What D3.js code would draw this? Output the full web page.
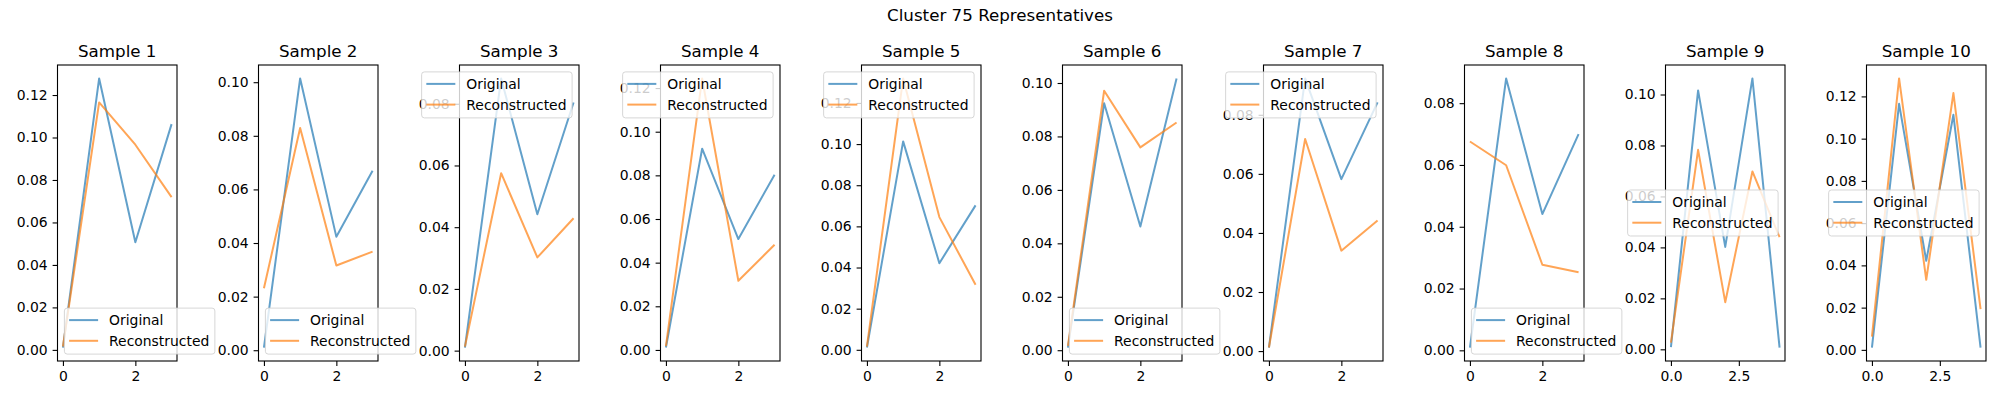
<!DOCTYPE html>
<html>
<head>
<meta charset="utf-8">
<script src="https://cdn.jsdelivr.net/npm/d3@7"></script>
<style>
body { margin: 0; background: #fff; }
text { font-family: "DejaVu Sans", sans-serif; fill: #000; }
</style>
</head>
<body>
<svg id="chart" width="2000" height="400"></svg>
<script>
// values
const figTitle = "Cluster 75 Representatives";
const sampleTitles = ["Sample 1","Sample 2","Sample 3","Sample 4","Sample 5",
                      "Sample 6","Sample 7","Sample 8","Sample 9","Sample 10"];
const seriesNames = ["Original", "Reconstructed"];

const original = [
  [0.0011, 0.1278, 0.0507, 0.1063],
  [0.0010, 0.1014, 0.0423, 0.0670],
  [0.0010, 0.0882, 0.0442, 0.0804],
  [0.0011, 0.0922, 0.0508, 0.0803],
  [0.0011, 0.1013, 0.0421, 0.0702],
  [0.0010, 0.0924, 0.0463, 0.1017],
  [0.0012, 0.0923, 0.0582, 0.0842],
  [0.0009, 0.0880, 0.0441, 0.0700],
  [0.0009, 0.1016, 0.0402, 0.1063, 0.0007],
  [0.0011, 0.1165, 0.0422, 0.1113, 0.0011]
];
const reconstructed = [
  [0.0016, 0.1165, 0.0966, 0.0719],
  [0.0231, 0.0829, 0.0316, 0.0368],
  [0.0013, 0.0575, 0.0302, 0.0429],
  [0.0018, 0.1244, 0.0317, 0.0482],
  [0.0016, 0.1319, 0.0645, 0.0316],
  [0.0016, 0.0971, 0.0759, 0.0852],
  [0.0012, 0.0718, 0.0340, 0.0442],
  [0.0676, 0.0599, 0.0277, 0.0253],
  [0.0026, 0.0783, 0.0185, 0.0698, 0.0440],
  [0.0063, 0.1285, 0.0332, 0.1216, 0.0193]
];
const legendLoc = ["lower left","lower left","upper right","upper right","upper right",
                   "lower left","upper right","lower left","center right","center right"];
const xTickVals = [[0,2],[0,2],[0,2],[0,2],[0,2],[0,2],[0,2],[0,2],[0,2.5],[0,2.5]];
const xTickLabels = [["0","2"],["0","2"],["0","2"],["0","2"],["0","2"],
                     ["0","2"],["0","2"],["0","2"],["0.0","2.5"],["0.0","2.5"]];
const yTickStep = 0.02;

const colors = ["#1f77b4", "#ff7f0e"];

const svg = d3.select("#chart");

// figure title
svg.append("text")
  .attr("x", 1000).attr("y", 20.5)
  .attr("text-anchor", "middle")
  .style("font-size", "16.7px")
  .text(figTitle);

const axTop = 65, axBottom = 361, axW = 119.5;
const fmtY = d3.format(".2f");

sampleTitles.forEach((title, i) => {
  const left = 57.5 + 201 * i;
  const right = left + axW;
  const orig = original[i], rec = reconstructed[i];
  const n = orig.length;

  const all = orig.concat(rec);
  const lo = d3.min(all), hi = d3.max(all);
  const pad = (hi - lo) * 0.05;
  const y = d3.scaleLinear().domain([lo - pad, hi + pad]).range([axBottom, axTop]);
  const x = d3.scaleLinear().domain([-(n - 1) * 0.05, (n - 1) * 1.05]).range([left, right]);

  const g = svg.append("g");

  // series lines
  const line = d3.line().x((d, k) => x(k)).y(d => y(d));
  [orig, rec].forEach((s, k) => {
    g.append("path")
      .attr("d", line(s))
      .attr("fill", "none")
      .attr("stroke", colors[k])
      .attr("stroke-opacity", 0.7)
      .attr("stroke-width", 2)
      .attr("stroke-linejoin", "round");
  });

  // y axis
  const yTicks = d3.range(0, y.domain()[1], yTickStep);
  const yAxis = d3.axisLeft(y).tickValues(yTicks).tickFormat(fmtY)
    .tickSizeOuter(0).tickSize(4.9).tickPadding(4.9);
  const ya = g.append("g").attr("transform", `translate(${left},0)`).call(yAxis);

  // x axis
  const xAxis = d3.axisBottom(x).tickValues(xTickVals[i])
    .tickFormat((d, k) => xTickLabels[i][k])
    .tickSizeOuter(0).tickSize(4.9).tickPadding(4.9);
  const xa = g.append("g").attr("transform", `translate(0,${axBottom})`).call(xAxis);

  [ya, xa].forEach(a => {
    a.select(".domain").remove();
    a.selectAll(".tick line").attr("stroke", "#000").attr("stroke-width", 1.1);
    a.selectAll(".tick text").style("font-size", "13.9px")
      .style("font-family", "DejaVu Sans, sans-serif").attr("fill", "#000");
  });

  // spines
  g.append("rect")
    .attr("x", left).attr("y", axTop)
    .attr("width", axW).attr("height", axBottom - axTop)
    .attr("fill", "none").attr("stroke", "#000").attr("stroke-width", 1.1);

  // subplot title
  g.append("text")
    .attr("x", (left + right) / 2).attr("y", 57)
    .attr("text-anchor", "middle")
    .style("font-size", "16.7px")
    .text(title);

  // legend
  const lg = g.append("g");
  const box = lg.append("rect");
  let textW = 0;
  seriesNames.forEach((name, k) => {
    const cy = 12 + k * 20.7;
    lg.append("line")
      .attr("x1", 4.7).attr("x2", 33.7).attr("y1", cy).attr("y2", cy)
      .attr("stroke", colors[k]).attr("stroke-opacity", 0.7).attr("stroke-width", 2);
    const t = lg.append("text")
      .attr("x", 44.7).attr("y", cy + 5)
      .style("font-size", "13.9px")
      .text(name);
    textW = Math.max(textW, t.node().getComputedTextLength());
  });
  const lw = 44.7 + textW + 5.6, lh = 46;
  box.attr("width", lw).attr("height", lh).attr("rx", 2.8)
    .attr("fill", "#fff").attr("fill-opacity", 0.8)
    .attr("stroke", "#cccccc").attr("stroke-opacity", 0.8).attr("stroke-width", 1);

  let lx, ly;
  const loc = legendLoc[i];
  if (loc === "lower left") { lx = left + 6.9; ly = axBottom - 6.9 - lh; }
  else if (loc === "upper right") { lx = right - 6.9 - lw; ly = axTop + 6.9; }
  else { lx = right - 6.9 - lw; ly = (axTop + axBottom) / 2 - lh / 2; }
  lg.attr("transform", `translate(${lx},${ly})`);
});
</script>
</body>
</html>
